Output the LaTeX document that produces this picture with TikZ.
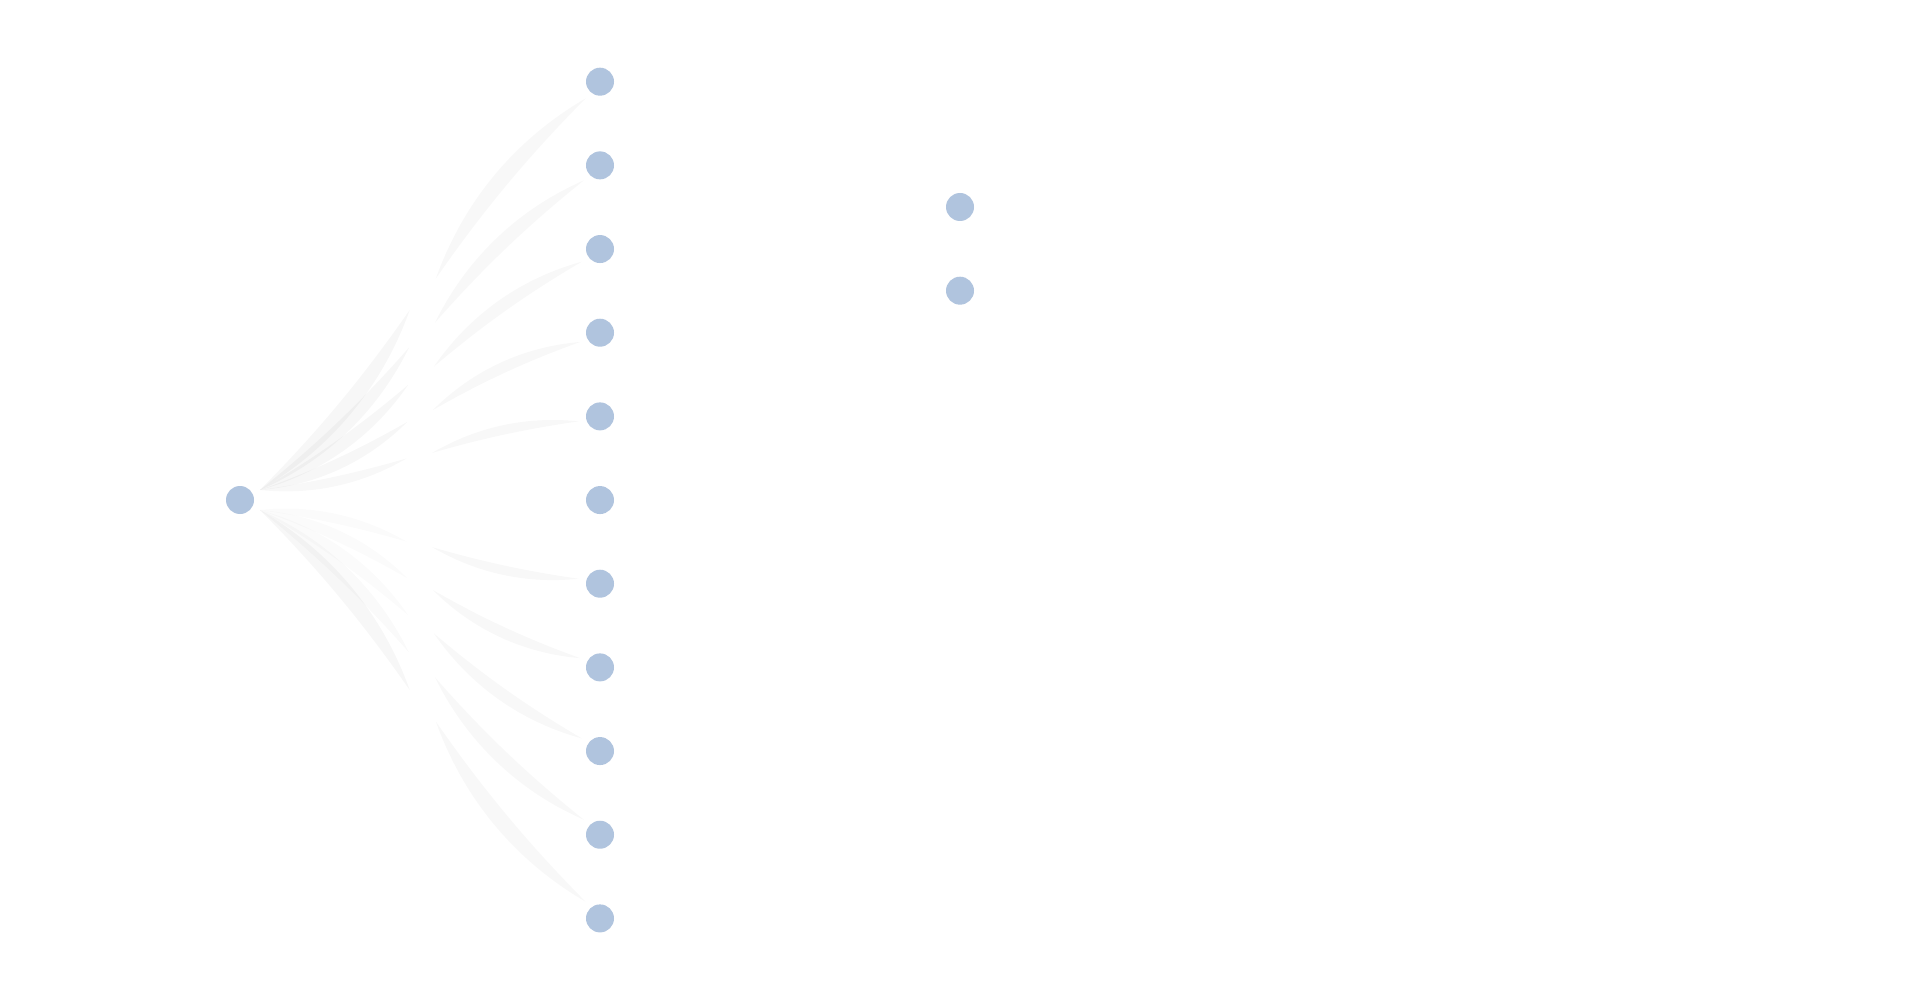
\documentclass[tikz,border=0pt]{standalone}
\usetikzlibrary{calc}
\pgfdeclarelayer{bg}
\pgfsetlayers{bg,main}
\definecolor{nodeblue}{HTML}{B0C4DE}
\begin{document}
\begin{tikzpicture}[x=1pt,y=-1pt,
  dot/.style={circle,inner sep=0pt,minimum size=28pt,fill=nodeblue,
    preaction={draw=white,line width=8pt}},
  ribbon/.style={fill=black,fill opacity=0.028,draw=none}]
\useasboundingbox (0,0) rectangle (1920,1000);
\node[dot] (src) at (240,500) {};
\foreach \i in {1,...,11} {
  \node[dot] (t\i) at (600,{81.7+83.67*(\i-1)}) {};
}
\node[dot] (r1) at (960,207) {};
\node[dot] (r2) at (960,290.7) {};
\coordinate (su) at ($(src)+(20,-10)$);
\coordinate (sd) at ($(src)+(20,10)$);
\begin{pgfonlayer}{bg}
\fill[white] (0,0) rectangle (1920,1000);
\foreach \i/\st/\ta/\tb/\op in {1/su/20/5/0.03,2/su/20/5/0.03,3/su/20/5/0.03,4/su/20/5/0.03,5/su/18/4/0.028,
    7/sd/-18/-4/0.016,8/sd/-20/-5/0.016,9/sd/-20/-5/0.016,10/sd/-20/-5/0.018,11/sd/-20/-5/0.03} {
  \coordinate (a\i) at (\st);
  \coordinate (b\i) at ($(t\i)!22pt!(src)$);
  \coordinate (p\i) at ($(a\i)!0.46!(b\i)$);
  \coordinate (q\i) at ($(a\i)!0.54!(b\i)$);
  \fill[ribbon,fill opacity=\op] (a\i) .. controls ($(a\i)!0.35!-\ta:(p\i)$) and ($(p\i)!0.35!\ta:(a\i)$) .. (p\i)
     .. controls ($(p\i)!0.35!\tb:(a\i)$) and ($(a\i)!0.35!-\tb:(p\i)$) .. (a\i) -- cycle;
  \fill[ribbon] (q\i) .. controls ($(q\i)!0.35!\ta:(b\i)$) and ($(b\i)!0.35!-\ta:(q\i)$) .. (b\i)
     .. controls ($(b\i)!0.35!-\tb:(q\i)$) and ($(q\i)!0.35!\tb:(b\i)$) .. (q\i) -- cycle;
}
\end{pgfonlayer}
\end{tikzpicture}
\end{document}
